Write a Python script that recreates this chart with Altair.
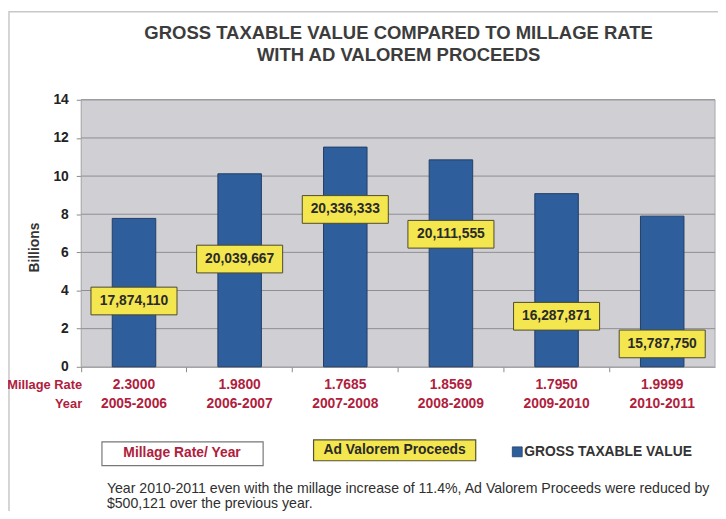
import altair as alt
import pandas as pd

# ---- data ----
years = ["2005-2006", "2006-2007", "2007-2008", "2008-2009", "2009-2010", "2010-2011"]
millage_rates = ["2.3000", "1.9800", "1.7685", "1.8569", "1.7950", "1.9999"]
gross_taxable_billions = [7.78, 10.12, 11.52, 10.85, 9.08, 7.90]
ad_valorem_proceeds = [17874110, 20039667, 20336333, 20111555, 16287871, 15787750]
# vertical placement (in billions) of the proceeds call-out boxes
proceeds_label_height = [3.45, 5.65, 8.25, 6.95, 2.65, 1.20]
y_ticks = [0, 2, 4, 6, 8, 10, 12, 14]

df = pd.DataFrame({
    "year": years,
    "rate": millage_rates,
    "gross": gross_taxable_billions,
    "proceeds": [f"{v:,}" for v in ad_valorem_proceeds],
    "label_y": proceeds_label_height,
})
grid_df = pd.DataFrame({"v": y_ticks[1:]})
one = pd.DataFrame({"k": [0]})

W = 641   # drawn plot width
H = 270   # plot height
FONT = "Liberation Sans"
RED = "#b0203c"
DARK = "#333333"
BLUE = "#2e5e9b"
YELLOW = "#f3e64e"

xscale = alt.Scale(domain=years, range=[0, W], paddingInner=0, paddingOuter=0)
yscale = alt.Scale(domain=[0, 14], nice=False, zero=True)

x_axis = alt.Axis(title=None, labels=False, ticks=True, tickSize=5, bandPosition=0,
                  domainColor="#8a8a8a", tickColor="#8a8a8a", grid=False)
y_axis = alt.Axis(values=y_ticks, title="Billions", grid=False, tickSize=5,
                  labelPadding=8, labelFont=FONT, labelFontSize=14,
                  labelFontWeight="bold", labelColor="#222222",
                  domainColor="#8a8a8a", tickColor="#8a8a8a",
                  titleFont=FONT, titleFontSize=14, titleFontWeight="bold",
                  titleColor="#333333", titleX=-40, titleY=149,
                  titleAngle=270, titleAlign="center", titleBaseline="bottom")

X = alt.X("year:N", scale=xscale, axis=x_axis, title=None)


def Y(field):
    return alt.Y(field, scale=yscale, axis=y_axis, title="Billions")


bars = alt.Chart(df).mark_bar(size=44, color=BLUE, stroke="#223f66", strokeWidth=1).encode(
    x=X, y=Y("gross:Q"))

frame = alt.Chart(one).mark_rect(fillOpacity=0, stroke="#c8c8c8", strokeWidth=1.5).encode(
    x=alt.value(-73), x2=alt.value(W + 40), y=alt.value(-89), y2=alt.value(H + 200))

backdrop = alt.Chart(one).mark_rect(fill="#cfcfd4", stroke="#a8a8ac", strokeWidth=1).encode(
    x=alt.value(0), x2=alt.value(W), y=alt.value(0), y2=alt.value(H))

grid = alt.Chart(grid_df).mark_rule(color="#8e8e92", strokeWidth=1).encode(
    y=Y("v:Q"), x=alt.value(0), x2=alt.value(W))

box_shape = "M-1,-0.322L1,-0.322L1,0.322L-1,0.322Z"
boxes = alt.Chart(df).mark_point(shape=box_shape, size=87 * 87, filled=True, fill=YELLOW,
                                 stroke="#4e4a2c", strokeWidth=1, opacity=1).encode(
    x=X, y=Y("label_y:Q"))

box_text = alt.Chart(df).mark_text(font=FONT, fontSize=14, fontWeight="bold", color="#2a2a2a").encode(
    x=X, y=Y("label_y:Q"), text="proceeds:N")

rate_text = alt.Chart(df).mark_text(font=FONT, fontSize=14, fontWeight="bold", color=RED).encode(
    x=X, y=alt.value(288), text="rate:N")
year_text = alt.Chart(df).mark_text(font=FONT, fontSize=14, fontWeight="bold", color=RED).encode(
    x=X, y=alt.value(308), text="year:N")


def label(txt, x, y, size=13, weight="bold", color=DARK, align="center", baseline="middle"):
    return alt.Chart(one).mark_text(font=FONT, fontSize=size, fontWeight=weight, color=color,
                                    align=align, baseline=baseline).encode(
        x=alt.value(x), y=alt.value(y), text=alt.value(txt))


hdr1 = label("Millage Rate", 1, 288, size=13, color=RED, align="right")
hdr2 = label("Year", 1, 308, size=13, color=RED, align="right")

title1 = label("GROSS TAXABLE VALUE COMPARED TO MILLAGE RATE", 321, -67, size=18.7, color="#3c3c3c")
title2 = label("WITH AD VALOREM PROCEEDS", 321, -45, size=18.7, color="#3c3c3c")

leg_box1 = alt.Chart(one).mark_rect(fill="white", stroke="#777777", strokeWidth=1.2).encode(
    x=alt.value(21), x2=alt.value(184), y=alt.value(346), y2=alt.value(370))
leg_txt1 = label("Millage Rate/ Year", 102, 357, size=14, color=RED)
leg_box2 = alt.Chart(one).mark_rect(fill=YELLOW, stroke="#55512f", strokeWidth=1.2).encode(
    x=alt.value(235), x2=alt.value(399), y=alt.value(344), y2=alt.value(365))
leg_txt2 = label("Ad Valorem Proceeds", 317, 354, size=14, color="#2a2a2a")
leg_sq = alt.Chart(one).mark_rect(fill=BLUE, stroke="#223f66", strokeWidth=0.8).encode(
    x=alt.value(436), x2=alt.value(446), y=alt.value(351), y2=alt.value(361))
leg_txt3 = label("GROSS TAXABLE VALUE", 448, 356, size=14, color="#333333", align="left")

foot1 = label("Year 2010-2011 even with the millage increase of 11.4%, Ad Valorem Proceeds were reduced by",
              26, 398, size=14.3, weight="normal", color="#2f2f2f", align="left", baseline="alphabetic")
foot2 = label("$500,121 over the previous year.",
              26, 413, size=14.3, weight="normal", color="#2f2f2f", align="left", baseline="alphabetic")

chart = alt.layer(
    frame, backdrop, grid, bars, boxes, box_text, rate_text, year_text, hdr1, hdr2,
    title1, title2, leg_box1, leg_txt1, leg_box2, leg_txt2, leg_sq, leg_txt3, foot1, foot2,
).properties(
    width=636, height=H,
    autosize=alt.AutoSizeParams(type="none"),
    padding={"left": 74, "top": 90, "right": 8, "bottom": 143},
    background="white",
).configure_view(strokeWidth=0)

chart.save("out.html", embed_options={"renderer": "svg", "actions": False})
